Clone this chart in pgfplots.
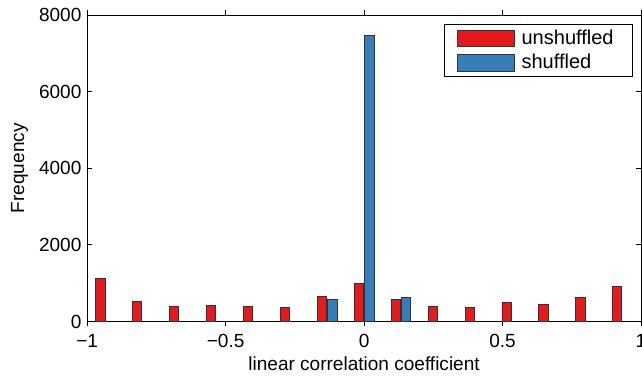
\documentclass[border=0pt]{standalone}
\usepackage{pgfplots}
\pgfplotsset{compat=1.18}
\usepackage{fontspec}
\setmainfont{Liberation Sans}
\definecolor{redbar}{RGB}{228,26,28}
\definecolor{bluebar}{RGB}{55,126,184}
\begin{document}
\fontsize{9.5}{11}\selectfont
\begin{tikzpicture}
\begin{axis}[
  scale only axis,
  width=276.5pt, height=153pt,
  xmin=-1, xmax=1, ymin=0, ymax=8000,
  xtick={-1,-0.5,0,0.5,1},
  xticklabels={−1,−0.5,0,0.5,1},
  ytick={0,2000,4000,6000,8000},
  /pgf/number format/assume math mode=true,
  /pgf/number format/1000 sep={},
  tick label style={font=\fontsize{9.5}{11}\selectfont},
  label style={font=\fontsize{9.5}{11}\selectfont},
  xticklabel style={yshift=-0.5pt},
  yticklabel style={xshift=0.5pt},
  tick align=inside,
  major tick length=2.5pt,
  axis line style={line width=0.5pt},
  every tick/.style={black, line width=0.4pt},
  xlabel={linear correlation coefficient},
  ylabel={Frequency},
  xlabel style={yshift=2pt},
  ylabel style={yshift=-1pt},
  ybar, bar width=0.033, bar shift=0pt,
  legend style={at={(rel axis cs:0.986,0.97)}, anchor=north east, draw=black, line width=0.5pt, inner xsep=6pt, inner ysep=0.5pt, row sep=-0.5pt, font=\fontsize{10}{11}\selectfont},
  legend cell align=left,
  legend image code/.code={\draw[#1, line width=0.4pt] (0pt,-4.2pt) rectangle (28.5pt,4.2pt);},
]
\addplot[fill=redbar, draw=black!80, line width=0.4pt] coordinates {
(-0.9523,1130) (-0.8190,520) (-0.6857,384) (-0.5523,418) (-0.4190,384)
(-0.2857,357) (-0.1523,654) (-0.0190,993) (0.1143,575) (0.2477,401)
(0.3810,357) (0.5143,488) (0.6477,436) (0.7810,627) (0.9143,915)};
\addlegendentry{\hspace{1.5pt}\makebox[47.5pt][l]{unshuffled}}
\addplot[fill=bluebar, draw=black!80, line width=0.4pt] coordinates {
(-0.1143,584) (0.0190,7470) (0.1523,619)};
\addlegendentry{\hspace{1.5pt}\makebox[47.5pt][l]{shuffled}}
\end{axis}
\pgfresetboundingbox
\path (current axis.south west) ++(-43.5pt,-27.5pt) coordinate (bl);
\path (current axis.north east) ++(0.5pt,7.5pt) coordinate (tr);
\useasboundingbox (bl) rectangle (tr);
\end{tikzpicture}
\end{document}
